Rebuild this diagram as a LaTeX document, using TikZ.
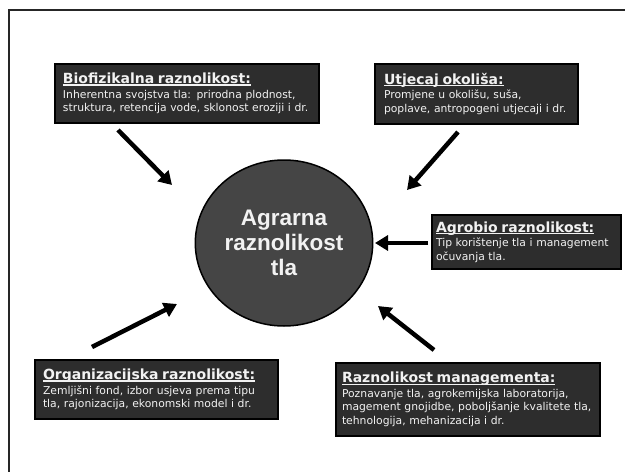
\documentclass[tikz,border=0pt]{standalone}
\usepackage{fontspec}
\setmainfont{DejaVu Sans}
\newfontfamily\hubfont{Liberation Sans}
\usetikzlibrary{arrows.meta,positioning,shapes.geometric}
\definecolor{boxGray}{HTML}{2D2D2D}
\definecolor{hubGray}{HTML}{454545}
\definecolor{txtLight}{HTML}{F2F2F2}
\newsavebox{\headbox}
\newcommand{\boxhead}[1]{{\bfseries\fontsize{14}{16}\selectfont
  \sbox{\headbox}{#1}\rlap{\rule[-1.9pt]{\wd\headbox}{1.1pt}}\usebox{\headbox}}}

\begin{document}
\begin{tikzpicture}[
  x=1pt,y=-1pt,
  infobox/.style={draw=black,line width=2pt,fill=boxGray,anchor=north west,
                  align=left,inner xsep=8pt,inner ysep=3pt,text=txtLight,
                  font=\fontsize{10.8}{13.5}\selectfont},
  hub/.style={draw=black,line width=1.5pt,fill=hubGray,ellipse,
              minimum width=175pt,minimum height=166pt,align=center,
              text=txtLight,font=\hubfont\bfseries\fontsize{22.5}{25}\selectfont},
  arr/.style={-{Triangle[length=13pt,width=15pt]},line width=4.5pt},
  frame/.style={draw=black!85,line width=2.5pt}
]
  \useasboundingbox[fill=white] (0,0) rectangle (625,472);
  \draw[frame] (9,10) rectangle (660,500);

  % ── centre ────────────────────────────────────────────────────────────────
  \node[hub] (hub) at (284,243) {Agrarna\\raznolikost\\tla};

  % ── surrounding boxes ─────────────────────────────────────────────────────
  \node[infobox,text width=248pt,minimum height=59pt] (bio) at (54,63)
    {\boxhead{Biofizikalna raznolikost:}\\[1pt]
     Inherentna svojstva tla: prirodna plodnost,\\
     struktura, retencija vode, sklonost eroziji i dr.};
  \node[infobox,text width=185pt,minimum height=60pt,inner xsep=9pt] (utj) at (374,63)
    {\boxhead{Utjecaj okoliša:}\\[1pt]
     Promjene u okolišu, suša,\\
     poplave, antropogeni utjecaji i dr.};
  \node[infobox,text width=181pt,minimum height=54pt,inner xsep=4pt,inner ysep=1pt] (agro) at (431,214)
    {\boxhead{Agrobio raznolikost:}\\[1pt]
     Tip korištenje tla i management\\
     očuvanja tla.};
  \node[infobox,text width=227pt,minimum height=59pt] (org) at (34,359)
    {\boxhead{Organizacijska raznolikost:}\\[1pt]
     Zemljišni fond, izbor usjeva prema tipu\\
     tla, rajonizacija, ekonomski model i dr.};
  \node[infobox,text width=252pt,minimum height=73pt,inner xsep=6pt] (man) at (335,362)
    {\boxhead{Raznolikost managementa:}\\[1pt]
     Poznavanje tla, agrokemijska laboratorija,\\
     magement gnojidbe, poboljšanje kvalitete tla,\\
     tehnologija, mehanizacija i dr.};

  % ── arrows into the centre ────────────────────────────────────────────────
  \coordinate (bioS)  at (118,130); \coordinate (bioT)  at (172,185);
  \coordinate (utjS)  at (458,132); \coordinate (utjT)  at (407,190);
  \coordinate (agroS) at (428,243); \coordinate (agroT) at (375,243);
  \coordinate (orgS)  at (92,347);  \coordinate (orgT)  at (177,304);
  \coordinate (manS)  at (434,350); \coordinate (manT)  at (378,306);

  \draw[arr] (bioS)--(bioT); \draw[arr] (utjS)--(utjT);
  \draw[arr] (agroS)--(agroT);
  \draw[arr] (orgS)--(orgT); \draw[arr] (manS)--(manT);
\end{tikzpicture}
\end{document}
